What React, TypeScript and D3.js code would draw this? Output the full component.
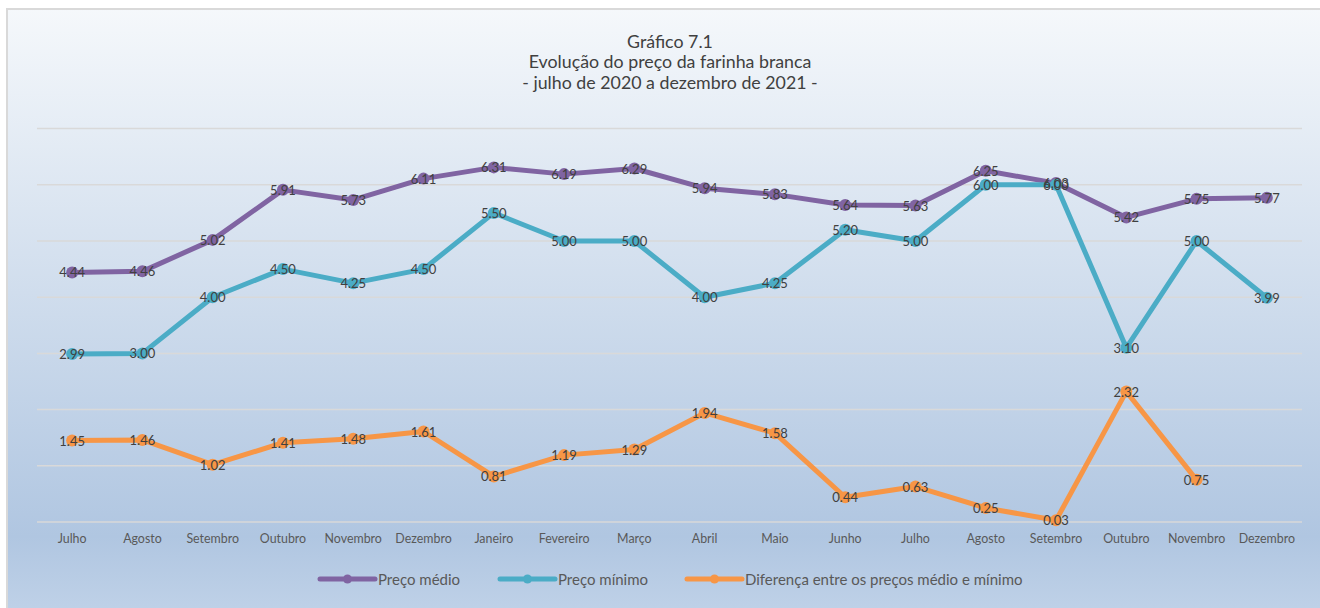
import React from "react";
import * as d3 from "d3";

const months = ["Julho","Agosto","Setembro","Outubro","Novembro","Dezembro","Janeiro","Fevereiro","Março","Abril","Maio","Junho","Julho","Agosto","Setembro","Outubro","Novembro","Dezembro"];
const precoMedio = [4.44,4.46,5.02,5.91,5.73,6.11,6.31,6.19,6.29,5.94,5.83,5.64,5.63,6.25,6.03,5.42,5.75,5.77];
const precoMinimo = [2.99,3.00,4.00,4.50,4.25,4.50,5.50,5.00,5.00,4.00,4.25,5.20,5.00,6.00,6.00,3.10,5.00,3.99];
const diferenca: (number | null)[] = [1.45,1.46,1.02,1.41,1.48,1.61,0.81,1.19,1.29,1.94,1.58,0.44,0.63,0.25,0.03,2.32,0.75,null];
const yTicks = [0,1,2,3,4,5,6,7];
const titleLines = ["Gráfico 7.1","Evolução do preço da farinha branca","- julho de 2020 a dezembro de 2021 -"];

const seriesList = [
  { name: "Preço médio", values: precoMedio as (number | null)[], color: "#8064a2" },
  { name: "Preço mínimo", values: precoMinimo as (number | null)[], color: "#4bacc6" },
  { name: "Diferença entre os preços médio e mínimo", values: diferenca, color: "#f79646" },
];

const FONT = "'Gill Sans', 'Gill Sans MT', Lato, 'Open Sans', sans-serif";

export default function App() {
  const W = 1320, H = 608;
  const left = 37, right = 1302, top = 128.6, bottom = 522;
  const x = d3.scaleBand<number>().domain(months.map((_, i) => i)).range([left, right]);
  const cx = (i: number) => (x(i) as number) + x.bandwidth() / 2;
  const y = d3.scaleLinear().domain([0, 7]).range([bottom, top]);

  const line = d3.line<number | null>()
    .defined(d => d !== null)
    .x((_, i) => cx(i))
    .y(d => y(d as number));

  const legendItems = [
    { x: 320, w: 55 },
    { x: 500, w: 55 },
    { x: 687, w: 55 },
  ];

  return (
    <svg width={W} height={H} style={{ position: "absolute", left: 0, top: 0 }} fontFamily={FONT}>
      <defs>
        <linearGradient id="bg" x1="0" y1="0" x2="0" y2="1">
          <stop offset="0" stopColor="#f5f8fb" />
          <stop offset="0.84" stopColor="#b0c6e1" />
          <stop offset="1" stopColor="#c4d5ea" />
        </linearGradient>
      </defs>
      <rect x={0} y={0} width={W} height={H} fill="#ffffff" />
      <rect x={7} y={9} width={W + 20} height={H + 20} fill="url(#bg)" stroke="#d9d9d9" strokeWidth={2} />
      {titleLines.map((t, i) => (
        <text key={i} x={670} y={47.5 + i * 20.8} textAnchor="middle" fontSize={17.8} fill="#404040">{t}</text>
      ))}
      {yTicks.map(t => (
        <line key={t} x1={left} x2={right} y1={y(t)} y2={y(t)} stroke="#d9d9d9" strokeWidth={1.5} />
      ))}
      {months.map((m, i) => (
        <text key={i} x={cx(i)} y={543} textAnchor="middle" fontSize={12.4} fill="#595959">{m}</text>
      ))}
      {seriesList.map((s, si) => (
        <g key={si}>
          <path d={line(s.values) || ""} fill="none" stroke={s.color} strokeWidth={5} strokeLinejoin="round" />
          {s.values.map((v, i) => v === null ? null : (
            <circle key={i} cx={cx(i)} cy={y(v)} r={6} fill={s.color} />
          ))}
        </g>
      ))}
      {seriesList.map((s, si) => (
        <g key={"l" + si}>
          {s.values.map((v, i) => v === null ? null : (
            <text key={i} x={cx(i)} y={y(v) + 5} textAnchor="middle" fontSize={13} fill="#404040">{v.toFixed(2)}</text>
          ))}
        </g>
      ))}
      {seriesList.map((s, si) => {
        const lx = legendItems[si].x;
        return (
          <g key={"lg" + si}>
            <line x1={lx} x2={lx + legendItems[si].w} y1={579} y2={579} stroke={s.color} strokeWidth={5} strokeLinecap="round" />
            <circle cx={lx + legendItems[si].w / 2} cy={579} r={4.5} fill={s.color} />
            <text x={lx + legendItems[si].w + 3} y={584.5} fontSize={15} fill="#595959">{s.name}</text>
          </g>
        );
      })}
    </svg>
  );
}
